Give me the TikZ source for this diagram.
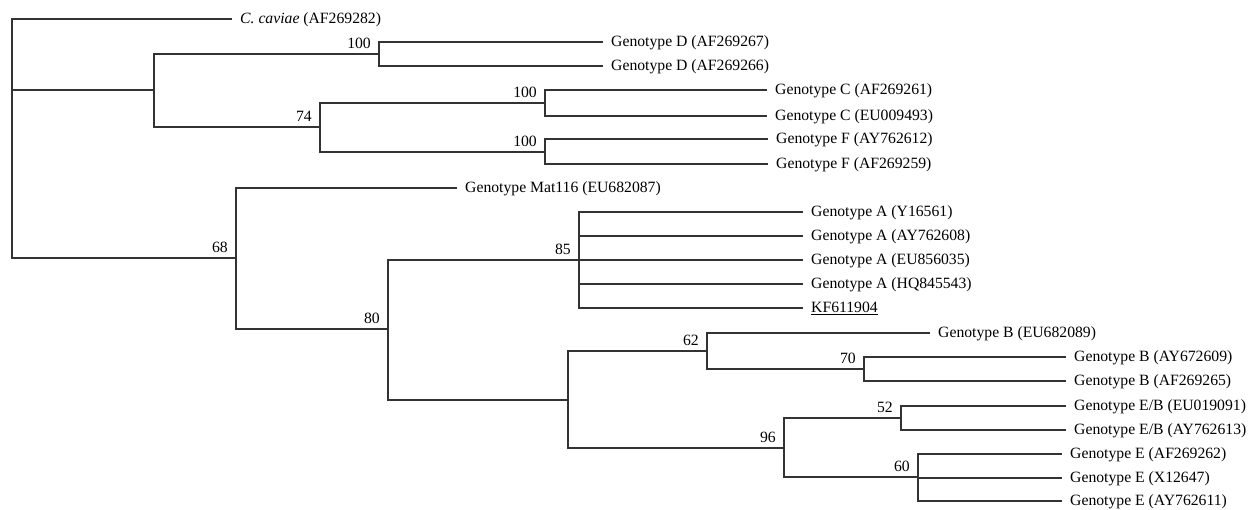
\documentclass[tikz,border=0pt]{standalone}
\usepackage{fontspec}
\setmainfont{Liberation Serif}
\usepackage{tikz}
\usetikzlibrary{positioning}

\begin{document}
\begin{tikzpicture}[
		x=1pt, y=-1pt,
		font=\fontsize{15.7}{19}\selectfont,
		branch/.style={draw=black!80, line width=1.6pt},
		taxon/.style={anchor=west, inner xsep=8pt, inner ysep=0pt, text height=11pt, text depth=2pt},
		boot/.style={anchor=south east, inner sep=0pt, xshift=-8pt, yshift=5pt}
	]
	\useasboundingbox (0,0) rectangle (1250,509);
	% inner nodes of the tree
	\coordinate (root) at (12,90);
	\coordinate (n1)  at (154,90);
	\coordinate (nD)  at (379,54);
	\coordinate (n74) at (320,127);
	\coordinate (nC)  at (545,103);
	\coordinate (nF)  at (545,152);
	\coordinate (n68) at (236,258);
	\coordinate (n80) at (388,329);
	\coordinate (n85) at (579,260);
	\coordinate (nBE) at (568,400);
	\coordinate (n62) at (707,351);
	\coordinate (n70) at (864,369);
	\coordinate (n96) at (784,448);
	\coordinate (n52) at (901,418);
	\coordinate (n60) at (918,477);
	% taxa
	\node[taxon] (cav) at (232,19) {\textit{C. caviae} (AF269282)};
	\node[taxon] (d1) at (603,42) {Genotype D (AF269267)};
	\node[taxon] (d2) at (603,66) {Genotype D (AF269266)};
	\node[taxon] (c1) at (767,90) {Genotype C (AF269261)};
	\node[taxon] (c2) at (767,116) {Genotype C (EU009493)};
	\node[taxon] (f1) at (768,139) {Genotype F (AY762612)};
	\node[taxon] (f2) at (768,164) {Genotype F (AF269259)};
	\node[taxon] (mat) at (457,188) {Genotype Mat116 (EU682087)};
	\node[taxon] (a1) at (803,212) {Genotype A (Y16561)};
	\node[taxon] (a2) at (803,236) {Genotype A (AY762608)};
	\node[taxon] (a3) at (803,260) {Genotype A (EU856035)};
	\node[taxon] (a4) at (803,284) {Genotype A (HQ845543)};
	\node[taxon] (kf) at (803,308) {\underline{KF611904}};
	\node[taxon] (b1) at (930,333) {Genotype B (EU682089)};
	\node[taxon] (b2) at (1066,357) {Genotype B (AY672609)};
	\node[taxon] (b3) at (1066,381) {Genotype B (AF269265)};
	\node[taxon] (eb1) at (1066,406) {Genotype E/B (EU019091)};
	\node[taxon] (eb2) at (1066,430) {Genotype E/B (AY762613)};
	\node[taxon] (e1) at (1062,454) {Genotype E (AF269262)};
	\node[taxon] (e2) at (1062,478) {Genotype E (X12647)};
	\node[taxon] (e3) at (1062,501) {Genotype E (AY762611)};
	% branches
	\draw[branch] (root) |- (cav.west) (root) -- (n1) (root) |- (n68);
	\draw[branch] (n1) |- (nD) (n1) |- (n74);
	\draw[branch] (nD) |- (d1.west) (nD) |- (d2.west);
	\draw[branch] (n74) |- (nC) (n74) |- (nF);
	\draw[branch] (nC) |- (c1.west) (nC) |- (c2.west);
	\draw[branch] (nF) |- (f1.west) (nF) |- (f2.west);
	\draw[branch] (n68) |- (mat.west) (n68) |- (n80);
	\draw[branch] (n80) |- (n85) (n80) |- (nBE);
	\foreach \t in {a1,a2,a3,a4,kf}
		\draw[branch] (n85) |- (\t.west);
	\draw[branch] (nBE) |- (n62) (nBE) |- (n96);
	\draw[branch] (n62) |- (b1.west) (n62) |- (n70);
	\draw[branch] (n70) |- (b2.west) (n70) |- (b3.west);
	\draw[branch] (n96) |- (n52) (n96) |- (n60);
	\draw[branch] (n52) |- (eb1.west) (n52) |- (eb2.west);
	\foreach \t in {e1,e2,e3}
		\draw[branch] (n60) |- (\t.west);
	% bootstrap values
	\node[boot] (bD) at (nD) {100};
	\node[boot] (b74) at (n74) {74};
	\node[boot] (bC) at (nC) {100};
	\node[boot] (bF) at (nF) {100};
	\node[boot] (b68) at (n68) {68};
	\node[boot] (b80) at (n80) {80};
	\node[boot] (b85) at (n85) {85};
	\node[boot] (b62) at (n62) {62};
	\node[boot] (b70) at (n70) {70};
	\node[boot] (b96) at (n96) {96};
	\node[boot] (b52) at (n52) {52};
	\node[boot] (b60) at (n60) {60};
\end{tikzpicture}
\end{document}
